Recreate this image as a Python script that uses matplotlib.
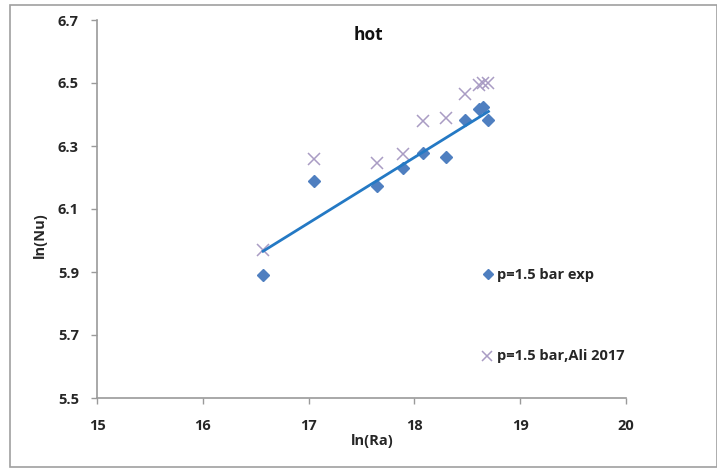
import numpy as np
import matplotlib
matplotlib.use("Agg")
import matplotlib.pyplot as plt
from matplotlib.patches import Rectangle
from matplotlib.lines import Line2D

plt.rcParams['font.family'] = ['Open Sans', 'DejaVu Sans']

# Data
ln_ra = [16.57, 17.05, 17.65, 17.89, 18.08, 18.30, 18.48, 18.61, 18.65, 18.70]
nu_exp = [5.892, 6.189, 6.173, 6.231, 6.277, 6.266, 6.382, 6.417, 6.425, 6.382]
nu_ali = [5.969, 6.258, 6.245, 6.274, 6.378, 6.389, 6.465, 6.494, 6.500, 6.500]
x_ticks = [15, 16, 17, 18, 19, 20]
y_ticks = [5.5, 5.7, 5.9, 6.1, 6.3, 6.5, 6.7]
label_exp = "p=1.5 bar exp"
label_ali = "p=1.5 bar,Ali 2017"

c_exp = '#4F7FC0'
c_ali = '#A99CC4'
c_trend = '#2479C4'
c_axis = '#9A9A9A'
c_text = '#262626'

fig = plt.figure(figsize=(7.17, 4.70), dpi=100)
fig.patches.append(Rectangle((10 / 717, 3 / 470), 1 - 10 / 717, 1 - 8 / 470,
                             transform=fig.transFigure, fill=False,
                             edgecolor='#A0A0A0', linewidth=1.2))

ax = fig.add_axes([97 / 717, 1 - 398 / 470, (626 - 97) / 717, (398 - 20) / 470])

ax.plot(ln_ra, nu_ali, linestyle='none', marker='x', markersize=8,
        markeredgewidth=1.1, color=c_ali, zorder=3)
ax.plot(ln_ra, nu_exp, linestyle='none', marker='D', markersize=6.2,
        color=c_exp, zorder=3)

coef = np.polyfit(ln_ra, nu_exp, 1)
xs = np.array([min(ln_ra), max(ln_ra)])
ax.plot(xs, np.polyval(coef, xs), color=c_trend, linewidth=2.0, zorder=4)

ax.set_xlim(x_ticks[0], x_ticks[-1])
ax.set_ylim(y_ticks[0], y_ticks[-1])
ax.set_xticks(x_ticks)
ax.set_yticks(y_ticks)
ax.set_xticklabels([str(t) for t in x_ticks])
ax.set_yticklabels([f"{t:.1f}" for t in y_ticks])
for lab in ax.get_xticklabels() + ax.get_yticklabels():
    lab.set_fontweight('bold')
    lab.set_fontsize(10.5)
    lab.set_color(c_text)

for s in ['top', 'right']:
    ax.spines[s].set_visible(False)
for s in ['left', 'bottom']:
    ax.spines[s].set_color(c_axis)
    ax.spines[s].set_linewidth(1.2)
ax.tick_params(axis='both', direction='out', length=4, width=1, color=c_axis)
ax.tick_params(axis='y', pad=9)
ax.tick_params(axis='x', pad=11)

fig.text(368 / 717, 1 - 35 / 470, "hot", ha='center', va='center',
         fontsize=12.5, fontweight='bold', color='#111111')
fig.text(40 / 717, 1 - 235 / 470, "ln(Nu)", ha='center', va='center',
         rotation=90, fontsize=10.5, fontweight='bold', color=c_text)
fig.text(372 / 717, 1 - 441 / 470, "ln(Ra)", ha='center', va='center',
         fontsize=10.5, fontweight='bold', color=c_text)

# Legend (manually placed, Excel-style)
fig.add_artist(Line2D([488 / 717], [1 - 274 / 470], marker='D', markersize=5,
                      color=c_exp, linestyle='none', transform=fig.transFigure))
fig.text(497 / 717, 1 - 275 / 470, label_exp, ha='left', va='center',
         fontsize=10.5, fontweight='bold', color=c_text)
fig.add_artist(Line2D([487 / 717], [1 - 356 / 470], marker='x', markersize=6.5,
                      markeredgewidth=1.1, color=c_ali, linestyle='none',
                      transform=fig.transFigure))
fig.text(497 / 717, 1 - 356 / 470, label_ali, ha='left', va='center',
         fontsize=10.5, fontweight='bold', color=c_text)

fig.savefig("out.png", dpi=100)
